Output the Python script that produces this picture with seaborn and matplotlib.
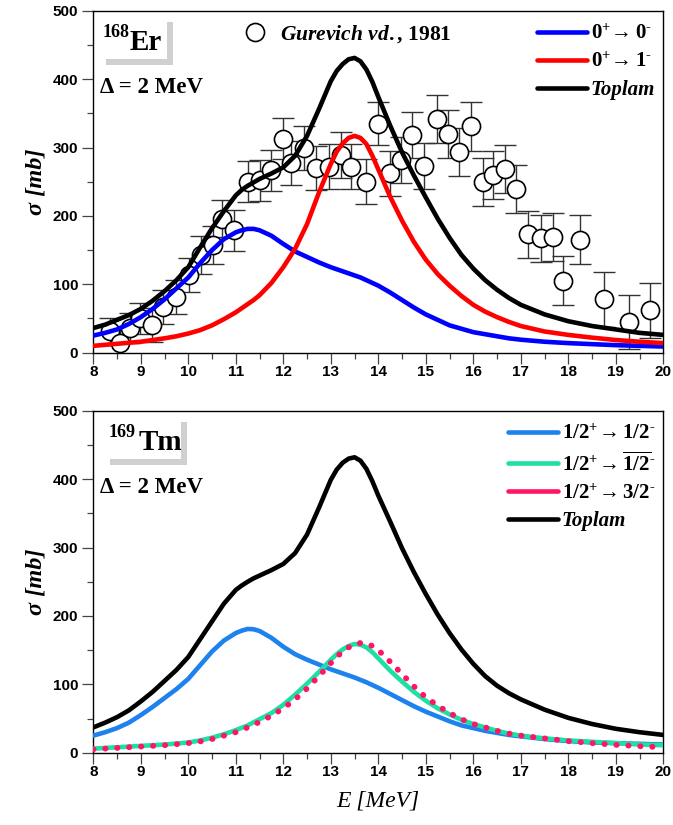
import numpy as np
import pandas as pd
import matplotlib
matplotlib.use("Agg")
import matplotlib.pyplot as plt
import seaborn as sns
from matplotlib.lines import Line2D
from matplotlib.patches import Rectangle
from matplotlib.ticker import MultipleLocator

# ---- calculated cross sections (mb) on a common energy grid (MeV) ----
energy = [8.0, 8.25, 8.5, 8.75, 9.0, 9.25, 9.5, 9.75, 10.0, 10.25, 10.5, 10.75,
          11.0, 11.125, 11.25, 11.375, 11.5, 11.75, 12.0, 12.25, 12.5, 12.75, 13.0,
          13.125, 13.25, 13.375, 13.5, 13.625, 13.75, 13.875, 14.0, 14.25, 14.5,
          14.75, 15.0, 15.25, 15.5, 15.75, 16.0, 16.25, 16.5, 16.75, 17.0, 17.5,
          18.0, 18.5, 19.0, 19.5, 20.0]

# 168Er
er_0minus = [25, 29, 34, 42, 52, 64, 78, 94, 110, 131, 150, 166, 176, 179, 181, 181,
             179, 171, 159, 148, 140, 132, 125, 122, 119, 116, 113, 110, 106, 102,
             98, 88, 77, 66, 56, 48, 40, 35, 30, 27, 24, 21, 19, 16, 14, 12.5, 11,
             10, 9]
er_1minus = [10, 11.5, 13, 14.5, 16, 18.5, 21, 24, 28, 33, 40, 49, 59, 65, 71, 77,
             84, 102, 125, 152, 188, 234, 276, 294, 306, 314, 317, 314, 305, 288,
             268, 228, 193, 162, 136, 115, 98, 83, 70, 60, 52, 45, 39, 31, 26, 22,
             18.5, 16, 14]
er_total = [36, 41, 48, 55, 64, 76, 90, 106, 125, 154, 182, 207, 230, 238, 244, 249,
            254, 262, 271, 288, 317, 356, 397, 412, 422, 429, 431, 426, 414, 396,
            374, 332, 293, 259, 227, 196, 168, 143, 123, 106, 92, 80, 70, 56, 46,
            39, 34, 29, 26]

# 169Tm
tm_half = [25, 30, 36, 44, 55, 67, 80, 93, 108, 128, 148, 164, 175, 178.5, 181,
           180.5, 178, 168, 155, 144, 136, 129, 122, 119, 116, 113, 110, 106.5, 103,
           99, 95, 86, 77, 68, 60, 53, 46, 40, 36, 32, 29, 26, 24, 20, 17, 15, 14,
           13, 12]
tm_half_bar = [6, 7, 8, 9, 10, 11, 12, 13.5, 15, 18, 22, 27, 33, 36.5, 40, 44.5, 49,
               58, 70, 85, 101, 118, 136, 144, 151, 156, 159, 158, 154, 147, 138,
               120, 104, 89, 76, 65, 56, 48, 42, 37, 32, 28, 25, 21, 18, 16, 14, 12,
               11]
tm_three_half = [5, 6, 7, 8, 9, 10, 11, 12.5, 14, 16.5, 20, 25, 30, 33.5, 37, 41, 45,
                 54, 65, 78, 94, 112, 131, 140, 148, 154, 158, 160.5, 160, 156, 150,
                 133, 115, 97, 81, 69, 58, 49, 42, 37, 32, 28, 25, 21, 17, 14, 11.5,
                 9.5, 8]
tm_total = [37, 44, 52, 62, 75, 89, 105, 121, 140, 166, 192, 218, 238, 244.5, 250,
            255, 259, 267, 276, 292, 319, 358, 399, 414, 424, 430, 432, 427, 415, 397,
            376, 338, 299, 264, 232, 202, 175, 151, 130, 112, 98, 87, 78, 63, 51, 42,
            35, 30, 26]

# ---- Gurevich et al. (1981) photoabsorption data for 168Er ----
gur_energy = [8.35, 8.56, 8.77, 8.98, 9.23, 9.47, 9.74, 10.02, 10.27, 10.51, 10.72,
              10.97, 11.25, 11.5, 11.74, 11.99, 12.16, 12.44, 12.69, 12.97, 13.22,
              13.43, 13.75, 13.99, 14.24, 14.48, 14.72, 14.97, 15.23, 15.46, 15.7,
              15.96, 16.2, 16.41, 16.67, 16.9, 17.16, 17.42, 17.68, 17.88, 18.25,
              18.76, 19.27, 19.72]
gur_sigma = [31, 14, 36, 50, 40, 67, 82, 114, 143, 157, 196, 179, 250, 252, 267, 313,
             277, 299, 270, 272, 289, 272, 250, 335, 262, 282, 318, 273, 342, 320,
             293, 331, 250, 260, 268, 239, 173, 167, 169, 105, 165, 78, 45, 62]
gur_err = [20, 20, 22, 22, 25, 25, 25, 25, 28, 28, 27, 30, 30, 30, 30, 30, 32, 32,
           32, 33, 33, 33, 33, 32, 33, 34, 34, 34, 35, 35, 35, 36, 35, 35, 35, 35,
           34, 35, 35, 36, 36, 40, 39, 40]

x_ticks = list(range(8, 21))
y_ticks = [0, 100, 200, 300, 400, 500]

sns.set_theme(style="ticks")
plt.rcParams["font.family"] = ["Liberation Serif", "DejaVu Serif"]
plt.rcParams["text.color"] = "black"
plt.rcParams["axes.labelcolor"] = "black"
plt.rcParams["mathtext.fontset"] = "custom"
plt.rcParams["mathtext.rm"] = "Liberation Serif:bold"
plt.rcParams["mathtext.bf"] = "Liberation Serif:bold"
plt.rcParams["mathtext.it"] = "Liberation Serif:italic:bold"

BLUE, RED, BLACK = "#0000FF", "#FF0000", "#000000"
SKY, MINT, PINK = "#1E82EE", "#1EDFA4", "#FF1466"
LW = 3.3
LEG_FONT = {"family": "Liberation Serif", "weight": "bold", "size": 15}

fig = plt.figure(figsize=(6.73, 8.25), dpi=100)
ax1 = fig.add_axes([0.1386, 0.5725, 0.847, 0.4145])
ax2 = fig.add_axes([0.1386, 0.0876, 0.847, 0.4145])


def style_axes(ax):
    ax.set_xlim(8, 20)
    ax.set_ylim(0, 500)
    ax.set_xticks(x_ticks)
    ax.set_yticks(y_ticks)
    ax.xaxis.set_minor_locator(MultipleLocator(0.5))
    ax.yaxis.set_minor_locator(MultipleLocator(50))
    ax.tick_params(which="major", direction="out", length=8, width=0.9,
                   color="#444444", labelcolor="black")
    ax.tick_params(which="minor", direction="out", length=4.5, width=0.9,
                   color="#444444")
    ax.tick_params(axis="x", which="major", pad=1)
    ax.tick_params(axis="y", which="major", pad=3)
    for lab in ax.get_xticklabels() + ax.get_yticklabels():
        lab.set_family("Liberation Sans")
        lab.set_fontweight("bold")
        lab.set_fontsize(11)
    for sp in ax.spines.values():
        sp.set_visible(True)
        sp.set_color("black")
        sp.set_linewidth(1.0)
    ax.set_xlabel("")
    ax.set_ylabel("σ [mb]", fontsize=17.5, fontstyle="italic", fontweight="bold",
                  labelpad=4)


def nucleus_tag(ax, mass, symbol, x_mass, x_sym, x_card, card_w):
    # white card with a grey drop shadow behind the nucleus name
    ax.add_patch(Rectangle((x_card + 0.0105, 0.841), card_w, 0.126,
                           transform=ax.transAxes, facecolor="#D0D0D0",
                           edgecolor="none", zorder=6))
    ax.add_patch(Rectangle((x_card, 0.859), card_w, 0.128, transform=ax.transAxes,
                           facecolor="white", edgecolor="none", zorder=7))
    ax.text(x_mass, 0.923, mass, transform=ax.transAxes, fontsize=13,
            fontweight="bold", ha="left", va="baseline", zorder=8)
    ax.text(x_sym, 0.885, symbol, transform=ax.transAxes, fontsize=21,
            fontweight="bold", ha="left", va="baseline", zorder=8)
    ax.text(0.0118, 0.759, "Δ = 2 MeV", transform=ax.transAxes, fontsize=16.5,
            fontweight="bold", ha="left", va="baseline", zorder=8)


# ---------------- upper panel: 168Er ----------------
ax1.errorbar(gur_energy, gur_sigma, yerr=gur_err, fmt="none", ecolor="#333333",
             elinewidth=1.0, capsize=8, capthick=1.0, zorder=2)
sns.scatterplot(x=gur_energy, y=gur_sigma, ax=ax1, marker="o", s=170,
                facecolor="white", edgecolor="black", linewidth=1.2, zorder=3,
                legend=False)
sns.lineplot(x=energy, y=er_0minus, ax=ax1, color=BLUE, lw=LW, zorder=4)
sns.lineplot(x=energy, y=er_1minus, ax=ax1, color=RED, lw=LW, zorder=4)
sns.lineplot(x=energy, y=er_total, ax=ax1, color=BLACK, lw=LW, zorder=5)
style_axes(ax1)
nucleus_tag(ax1, "168", "Er", 0.017, 0.064, 0.0118, 0.1175)

exp_handle = [Line2D([], [], marker="o", ls="none", mfc="white", mec="black",
                     ms=13, mew=1.2)]
leg_exp = ax1.legend(exp_handle, [r"$\mathit{Gurevich\ vd.}$, 1981"],
                     loc="upper left", bbox_to_anchor=(0.257, 0.977), frameon=False,
                     handlelength=1.0, handletextpad=0.66, borderpad=0.2,
                     borderaxespad=0.0,
                     prop={"family": "Liberation Serif", "weight": "bold",
                           "size": 15.5})
ax1.add_artist(leg_exp)

h1 = [Line2D([], [], color=BLUE, lw=LW), Line2D([], [], color=RED, lw=LW),
      Line2D([], [], color=BLACK, lw=LW)]
l1 = [r"$0^{+}\!\rightarrow 0^{\text{-}}$", r"$0^{+}\!\rightarrow 1^{\text{-}}$",
      "Toplam"]
leg1 = ax1.legend(h1, l1, loc="upper right", bbox_to_anchor=(1.0, 0.985),
                  frameon=False, handlelength=2.4, handletextpad=0.15,
                  labelspacing=0.38, borderpad=0.2, borderaxespad=0.2, prop=LEG_FONT)
leg1.get_texts()[2].set_fontstyle("italic")

# ---------------- lower panel: 169Tm ----------------
sns.lineplot(x=energy, y=tm_half, ax=ax2, color=SKY, lw=LW, zorder=3)
sns.lineplot(x=energy, y=tm_half_bar, ax=ax2, color=MINT, lw=LW, zorder=3)
ax2.plot(energy, tm_three_half, color=PINK, lw=4.2, ls=(0, (0.05, 2.0)),
         dash_capstyle="round", solid_capstyle="round", zorder=4)
sns.lineplot(x=energy, y=tm_total, ax=ax2, color=BLACK, lw=LW, zorder=5)
style_axes(ax2)
nucleus_tag(ax2, "169", "Tm", 0.026, 0.080, 0.0188, 0.1354)
ax2.set_xlabel("E [MeV]", fontsize=17, fontstyle="italic", labelpad=8)

h2 = [Line2D([], [], color=SKY, lw=LW), Line2D([], [], color=MINT, lw=LW),
      Line2D([], [], color=PINK, lw=LW), Line2D([], [], color=BLACK, lw=LW)]
l2 = [r"$1/2^{+}\!\rightarrow 1/2^{\text{-}}$",
      r"$1/2^{+}\!\rightarrow \overline{1/2}^{\text{-}}$",
      r"$1/2^{+}\!\rightarrow 3/2^{\text{-}}$", "Toplam"]
leg2 = ax2.legend(h2, l2, loc="upper right", bbox_to_anchor=(1.0, 0.985),
                  frameon=False, handlelength=2.4, handletextpad=0.15,
                  labelspacing=0.38, borderpad=0.2, borderaxespad=0.2, prop=LEG_FONT)
leg2.get_texts()[3].set_fontstyle("italic")

fig.savefig("out.png", dpi=100)
